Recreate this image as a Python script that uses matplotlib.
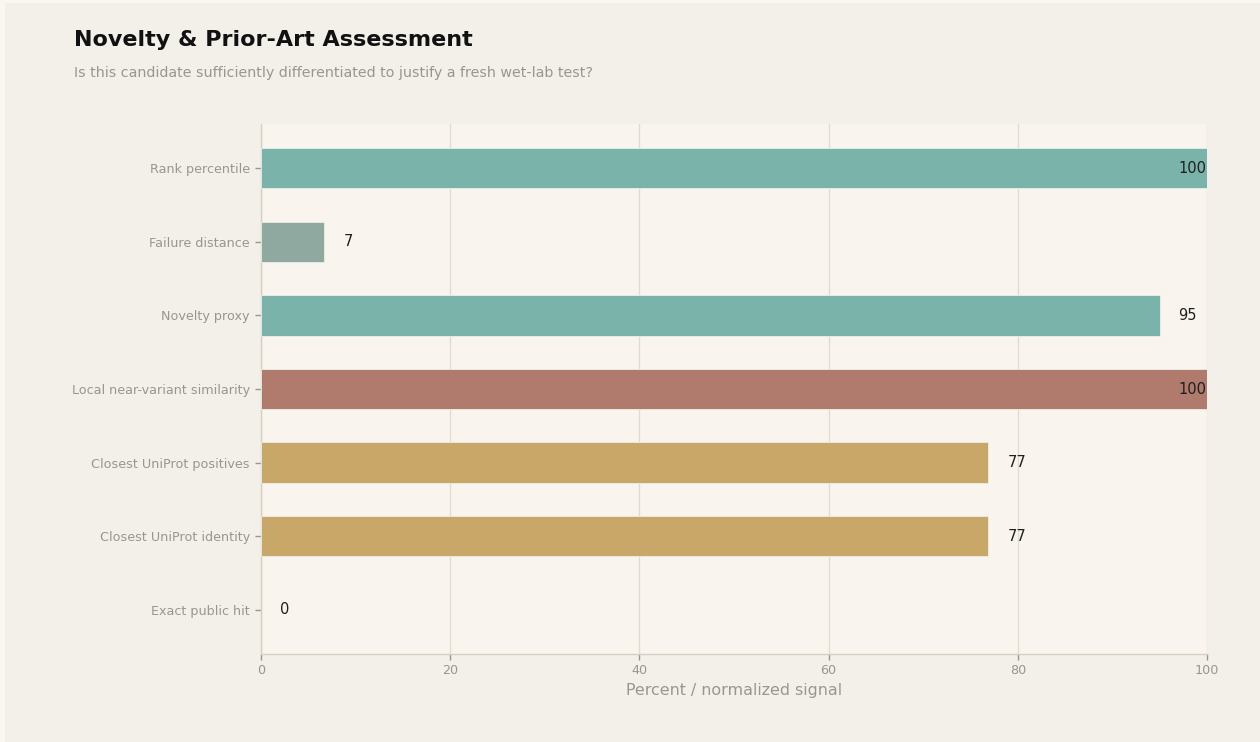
import matplotlib.pyplot as plt
from matplotlib.patches import Rectangle

labels = ['Rank percentile', 'Failure distance', 'Novelty proxy',
          'Local near-variant similarity', 'Closest UniProt positives',
          'Closest UniProt identity', 'Exact public hit']
values = [100, 6.7, 95, 100, 76.9, 76.9, 0]
colors = ['#7ab3a9', '#8fa9a0', '#7ab3a9', '#b07a6d', '#c9a769', '#c9a769', '#c9a769']

fig = plt.figure(figsize=(12.6, 7.42), dpi=100)
fig.patch.set_facecolor('#faf7f1')
fig.patches.append(Rectangle((5 / 1260, 0), 1, 1 - 3 / 742, transform=fig.transFigure,
                             facecolor='#f3f0e9', edgecolor='none', zorder=-1))

ax = fig.add_axes([261 / 1260, 1 - 654 / 742, 946 / 1260, 530 / 742])
ax.set_facecolor('#f9f5ee')

ypos = list(range(len(labels)))
bars = ax.barh(ypos, values, height=0.55, color=colors, edgecolor='#e9efe9',
               linewidth=0.6, zorder=3)
for b, v in zip(bars, values):
    if v == 0:
        b.set_linewidth(0)
for y, v in zip(ypos, values):
    ax.text(min(v + 2, 97), y, f'{v:.0f}', va='center', ha='left',
            fontsize=10.5, color='#1f1f1f', zorder=4)

ax.set_xlim(0, 100)
ax.set_ylim(len(labels) - 0.4, -0.6)
ax.set_yticks(ypos)
ax.set_yticklabels(labels)
ax.set_xticks([0, 20, 40, 60, 80, 100])
ax.tick_params(axis='both', colors='#9a968e', labelsize=9.2, length=4, width=1)
ax.tick_params(axis='y', pad=4)
ax.grid(axis='x', color='#e2dbcf', linewidth=1, zorder=0)
ax.set_axisbelow(True)
for s in ['top', 'right']:
    ax.spines[s].set_visible(False)
for s in ['left', 'bottom']:
    ax.spines[s].set_color('#d6cfc2')
    ax.spines[s].set_linewidth(1)
ax.set_xlabel('Percent / normalized signal', fontsize=11.4, color='#9a968e', labelpad=4)

fig.text(74 / 1260, 1 - 40 / 742, 'Novelty & Prior-Art Assessment', fontsize=16,
         fontweight='bold', color='#111111', va='center', ha='left')
fig.text(74 / 1260, 1 - 73 / 742,
         'Is this candidate sufficiently differentiated to justify a fresh wet-lab test?',
         fontsize=10.3, color='#9a968e', va='center', ha='left')

fig.savefig('out.png', dpi=100, facecolor=fig.get_facecolor())
